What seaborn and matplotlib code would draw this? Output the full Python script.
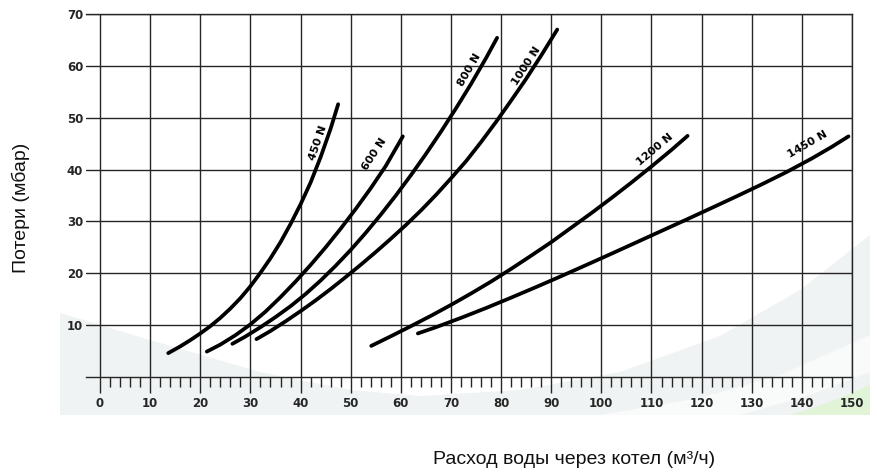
import numpy as np
import pandas as pd
import seaborn as sns
import matplotlib.pyplot as plt
from matplotlib.patches import Polygon
from matplotlib.ticker import FixedLocator

# curves: water flow (m3/h) vs pressure loss (mbar)
models = ["450 N", "600 N", "800 N", "1000 N", "1200 N", "1450 N"]

flow_450 = [13.6, 16, 18, 20, 22, 24, 26, 28, 30, 32, 34, 36, 38, 40, 42, 44, 46, 47.5]
loss_450 = [4.6, 5.9, 7.1, 8.4, 9.8, 11.4, 13.2, 15.2, 17.5, 20.1, 22.9, 26.0, 29.5,
            33.3, 37.5, 42.4, 47.9, 52.6]

flow_600 = [21.3, 24, 27, 30, 33, 36, 39, 42, 45, 48, 51, 54, 57, 60.4]
loss_600 = [4.9, 6.25, 8.05, 10.15, 12.6, 15.4, 18.4, 21.6, 25.0, 28.6, 32.4, 36.4,
            40.7, 46.4]

flow_800 = [26.4, 29, 32, 35, 38, 41, 44, 47, 50, 53, 56, 59, 62, 65, 68, 71, 74, 77, 79.2]
loss_800 = [6.4, 7.8, 9.6, 11.55, 13.65, 16.0, 18.6, 21.45, 24.5, 27.8, 31.3, 35.0,
            38.9, 43.0, 47.3, 51.8, 56.5, 61.5, 65.4]

flow_1000 = [31.2, 34, 37, 40, 43, 46, 49, 52, 55, 58, 61, 64, 67, 70, 73, 76, 79,
             82, 85, 88, 91.2]
loss_1000 = [7.3, 8.87, 10.73, 12.7, 14.77, 16.96, 19.27, 21.64, 24.1, 26.65, 29.3,
             32.1, 35.1, 38.3, 41.6, 45.3, 49.2, 53.3, 57.5, 62.0, 67.0]

flow_1200 = [54.1, 58, 62, 66, 70, 74, 78, 82, 86, 90, 94, 98, 102, 106, 110, 114, 117.2]
loss_1200 = [6.0, 7.85, 9.8, 11.8, 13.9, 16.1, 18.4, 20.85, 23.4, 26.0, 28.8, 31.6,
             34.5, 37.5, 40.6, 43.8, 46.5]

flow_1450 = [63.4, 67, 72, 77, 82, 87, 92, 97, 102, 107, 112, 117, 122, 127, 132,
             137, 142, 146, 149.3]
loss_1450 = [8.4, 9.6, 11.4, 13.3, 15.3, 17.35, 19.45, 21.6, 23.77, 25.97, 28.17,
             30.37, 32.6, 34.85, 37.15, 39.55, 42.15, 44.4, 46.4]

flows = [flow_450, flow_600, flow_800, flow_1000, flow_1200, flow_1450]
losses = [loss_450, loss_600, loss_800, loss_1000, loss_1200, loss_1450]

# curve labels (position in data units, angle on screen)
label_x = [43.5, 54.8, 73.7, 85.0, 110.6, 141.1]
label_y = [45.2, 42.9, 59.3, 60.0, 43.8, 44.8]
label_angle = [71, 57, 60, 57, 40, 30]

x_ticks = list(range(0, 151, 10))
x_minor = [v for v in range(2, 150, 2) if v % 10]
y_ticks = list(range(10, 71, 10))

rows = []
for name, fx, ly in zip(models, flows, losses):
    for a, b in zip(fx, ly):
        rows.append({"model": name, "flow": a, "loss": b})
df = pd.DataFrame(rows)

sns.set_theme(style="white")
plt.rcParams["font.family"] = ["DejaVu Sans"]

W, H = 877, 472
fig = plt.figure(figsize=(W / 100, H / 100), dpi=100)


def px(pts):
    return [(x / W, 1 - y / H) for x, y in pts]


# faint slide background swooshes
fig.patches.append(Polygon(px([(60, 313), (150, 340), (260, 372), (350, 390),
                               (420, 396), (520, 390), (620, 372), (720, 336),
                               (800, 290), (870, 235), (870, 415), (60, 415)]),
                           closed=True, transform=fig.transFigure,
                           facecolor="#f0f3f3", edgecolor="none", zorder=0))
fig.patches.append(Polygon(px([(600, 415), (700, 398), (780, 375), (870, 335),
                               (870, 372), (810, 395), (740, 415)]),
                           closed=True, transform=fig.transFigure,
                           facecolor="#f9fbfa", edgecolor="none", zorder=0))
fig.patches.append(Polygon(px([(790, 415), (830, 402), (870, 385), (870, 415)]),
                           closed=True, transform=fig.transFigure,
                           facecolor="#e2f4d8", edgecolor="none", zorder=0))

ax = fig.add_axes([86 / W, 1 - 377 / H, (852 - 86) / W, (377 - 14) / H])
ax.set_zorder(2)
ax.patch.set_alpha(0)

grid_col = "#262626"
sns.lineplot(data=df, x="flow", y="loss", units="model", estimator=None,
             sort=False, color="black", lw=2.7, ax=ax, legend=False,
             zorder=3)

ax.set_xlim(-2.8, 150)
ax.set_ylim(0, 70)
ax.set_xticks(x_ticks)
ax.set_yticks(y_ticks)
ax.xaxis.set_minor_locator(FixedLocator(x_minor))
ax.grid(True, which="major", color=grid_col, lw=1.0)
ax.set_axisbelow(True)

for side in ["top", "right", "bottom"]:
    ax.spines[side].set_visible(True)
    ax.spines[side].set_color(grid_col)
    ax.spines[side].set_linewidth(1.0)
ax.spines["left"].set_visible(False)

ax.tick_params(axis="x", which="major", direction="out", length=11.5,
               width=1.0, color=grid_col, pad=3.0, labelsize=8.5, bottom=True)
ax.tick_params(axis="x", which="minor", direction="out", length=7,
               width=1.0, color=grid_col, bottom=True)
ax.tick_params(axis="y", which="both", length=0, pad=2.0, labelsize=8.5)
for lab in ax.get_xticklabels() + ax.get_yticklabels():
    lab.set_fontweight("bold")
ax.set_xlabel("")
ax.set_ylabel("")

for name, lx, ly, ang in zip(models, label_x, label_y, label_angle):
    ax.text(lx, ly, name, rotation=ang, rotation_mode="anchor",
            ha="center", va="center", fontsize=8, fontweight="bold",
            color="black", zorder=4)

fig.text(21 / W, 1 - 208 / H, "Потери (мбар)", rotation=90,
         ha="center", va="center", fontsize=14,
         family=["Liberation Sans", "DejaVu Sans"], color="#111111")
fig.text(574 / W, 1 - 460 / H, "Расход воды через котел (м³/ч)",
         ha="center", va="center", fontsize=14,
         family=["Liberation Sans", "DejaVu Sans"], color="#111111")

fig.savefig("out.png", dpi=100)
